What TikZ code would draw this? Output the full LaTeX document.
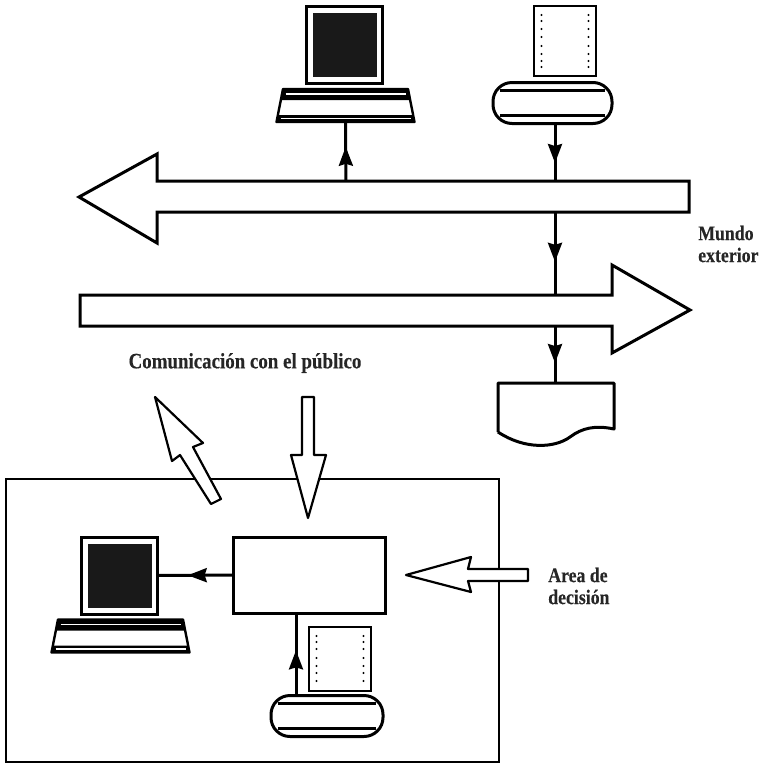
\documentclass[tikz,border=0pt]{standalone}
\usepackage{fontspec}
\setmainfont{Liberation Serif}[FakeStretch=0.86,BoldFeatures={FakeBold=0.25}]
\usepackage{tikz}
\usetikzlibrary{arrows.meta,decorations.markings}
\def\px{0.75pt}
\tikzset{
  wire/.style={line width=3*\px,postaction={decorate},
    decoration={markings,mark=at position #1 with {\arrow{Stealth[length=19*\px,width=14*\px,inset=2*\px]}}}},
  bigarrow/.style={draw,line width=3*\px,fill=white,line join=miter},
  thinarrow/.style={draw,line width=2.2*\px,fill=white,line join=round},
  screenbox/.style={rectangle,draw,fill=white,line width=3*\px,minimum width=76*\px,minimum height=77*\px,outer sep=0pt},
  screenfill/.style={rectangle,fill=black!90,minimum width=64*\px,minimum height=64*\px,inner sep=0pt},
  printerbox/.style={rectangle,draw,fill=white,line width=3*\px,rounded corners=19*\px,outer sep=0pt},
  sheet/.style={rectangle,draw,fill=white,line width=1.4*\px,minimum width=62*\px,inner sep=0pt,outer sep=0pt},
  caption/.style={font=\fontsize{15.5}{16.5}\selectfont\bfseries,text=black!85,inner sep=0pt,align=left}
}
\newcommand{\monitor}[3]{
  \node[screenbox] (#1) at (#2,#3) {};
  \node[screenfill] at (#1.center) {};
  \begin{scope}[shift={(#2+1,#3+60.5)}]
    \filldraw[fill=white,line width=2.4*\px,line join=round] (-62.5,-16.5) -- (62.5,-16.5) -- (69,16.5) -- (-69,16.5) -- cycle;
    \fill (-62.5,-16.5) -- (62.5,-16.5) -- (64.7,-5.5) -- (-64.7,-5.5) -- cycle;
    \fill (-67.6,9.5) -- (67.6,9.5) -- (69,16.5) -- (-69,16.5) -- cycle;
    \draw[white,line width=1.8*\px] (-60,-11.5) -- (60,-11.5);
    \draw[white,line width=1.8*\px] (-65,13) -- (65,13);
    \coordinate (#1key) at (0,16.5);
  \end{scope}
}
\newcommand{\printer}[4]{
  \node[printerbox,minimum width=#4*\px,minimum height=41*\px] (#1) at (#2,#3) {};
  \draw[line width=3.6*\px] (#2-#4/2+7,#3-12.5) -- (#2+#4/2-7,#3-12.5);
  \draw[line width=3.6*\px] (#2-#4/2+7,#3+12.5) -- (#2+#4/2-7,#3+12.5);
}
\newcommand{\paper}[5]{
  \node[sheet,minimum height=#4*\px] (#1) at (#2,#3) {};
  \foreach \dy in {#5} {
    \fill (#2-23.5,#3+\dy) circle (1.1*\px);
    \fill (#2+23.5,#3+\dy) circle (1.1*\px);
  }
}
\begin{document}
\begin{tikzpicture}[x=\px,y=-\px]
  \useasboundingbox (0,0) rectangle (765,765);
  % lower frame
  \node[draw,rectangle,line width=1.9*\px,minimum width=493*\px,minimum height=283*\px,outer sep=0pt] (frame) at (252.5,620.5) {};

  % upper devices
  \monitor{monA}{344.5}{45}
  \printer{prnA}{552.5}{103}{119}
  \paper{shtA}{565}{41}{70}{-26,-20,-12,-4,5,13,20,26}

  % public channels
  \path[bigarrow] (79,197) -- (157,154) -- (157,181) -- (689,181) -- (689,212) -- (157,212) -- (157,243) -- cycle;
  \path[bigarrow] (690,310) -- (612,265) -- (612,295) -- (80,295) -- (80,326) -- (612,326) -- (612,353) -- cycle;
  \coordinate (busAmon) at (346,181);
  \coordinate (busAprn) at (555,181);
  \coordinate (busAlow) at (555,212);
  \coordinate (busBtop) at (555,295);
  \coordinate (busBlow) at (555,326);
  \coordinate (prnAout) at (555,123);
  \coordinate (docin) at (555,383);
  \draw[wire=0.58] (busAmon) -- (monAkey);
  \draw[wire=0.69] (prnAout) -- (busAprn);
  \draw[wire=0.6] (busAlow) -- (busBtop);
  \draw[wire=0.65] (busBlow) -- (docin);

  % listing
  \draw[line width=3*\px,line join=round] (498,432) -- (498,383) -- (614,383) -- (614,429)
    .. controls (595,425) and (582,428) .. (570,437) .. controls (555,448) and (525,450) .. (498,432);

  % hollow arrows
  \path[thinarrow] (155,397) -- (203,443) -- (193,447) -- (221,499) -- (211,504) -- (180,455) -- (172,461) -- cycle;
  \path[thinarrow] (308,518) -- (326,455) -- (314,455) -- (314,397) -- (302,397) -- (302,455) -- (291,455) -- cycle;
  \path[thinarrow] (406,575) -- (471,557) -- (468,569) -- (528,569) -- (528,581) -- (468,581) -- (471,592) -- cycle;

  % decision area
  \node[rectangle,draw,line width=3*\px,minimum width=152*\px,minimum height=76*\px,outer sep=0pt] (proc) at (309,575) {};
  \monitor{monB}{119.5}{575.5}
  \printer{prnB}{327}{716}{112}
  \paper{shtB}{340}{659}{64}{-23,-17,-10,-1,7,14,22}
  \coordinate (prnBout) at (296,696);
  \coordinate (procin) at (296,613);
  \draw[wire=0.6] (proc.west) -- (monB.east);
  \draw[wire=0.55] (prnBout) -- (procin);

  % texts
  \node[caption,anchor=west] (mundo) at (698,244) {Mundo\\exterior};
  \node[caption,font=\fontsize{16.5}{18}\selectfont\bfseries] (publico) at (245,363) {Comunicación con el público};
  \node[caption,anchor=west] (area) at (548,586) {Area de\\decisión};
\end{tikzpicture}
\end{document}
